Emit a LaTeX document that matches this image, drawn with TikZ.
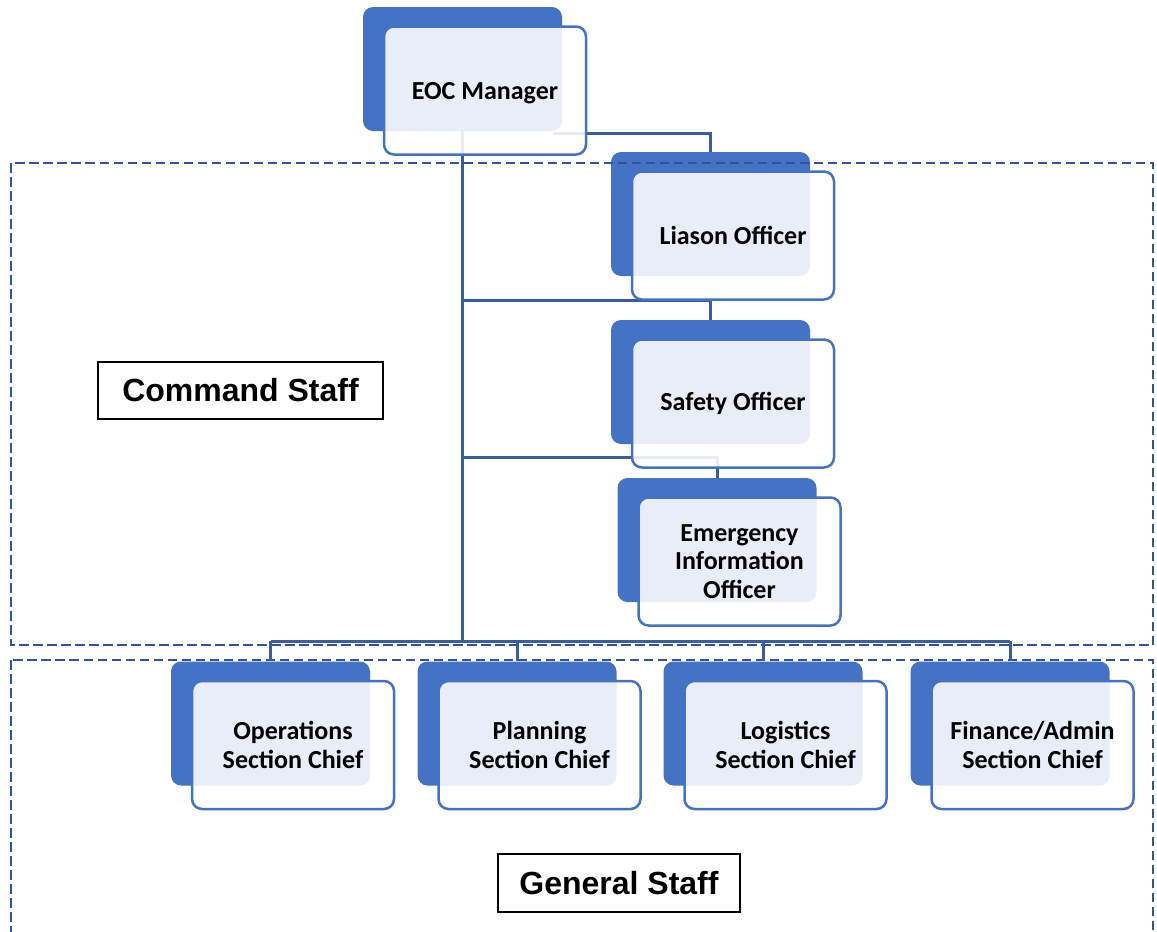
\documentclass[tikz,border=0pt]{standalone}
\usepackage{fontspec}
\setmainfont{Carlito}
\newfontfamily\arialfont{Liberation Sans}
\usepackage{tikz}
\definecolor{boxblue}{HTML}{4472C4}
\definecolor{lineblue}{HTML}{3A5CA3}
\definecolor{dashblue}{HTML}{2F5597}
\tikzset{
  backbox/.style={fill=boxblue, rounded corners=10pt, minimum width=199pt, minimum height=124pt},
  frontbox/.style={draw=boxblue, line width=2.5pt, fill=white, fill opacity=0.88, text opacity=1,
    rounded corners=10pt, minimum width=202pt, minimum height=128pt, align=center,
    font=\fontsize{26}{28.5}\selectfont\bfseries, shift={(22.5,21.5)}},
  conn/.style={draw=lineblue, line width=3pt},
  staffline/.style={draw=dashblue, line width=2.5pt, dash pattern=on 9.5pt off 4.5pt},
  stafflabel/.style={draw=black, line width=2pt, fill=white, font=\arialfont\fontsize{32}{36}\selectfont\bfseries}
}

\begin{document}
\begin{tikzpicture}[x=1pt, y=-1pt]
\useasboundingbox (0,0) rectangle (1157,932);
% back boxes
\node [backbox] (eocB) at (462.5,69) {};
\node [backbox] (liaB) at (710.5,214) {};
\node [backbox] (safB) at (710.5,382) {};
\node [backbox] (eioB) at (717,540) {};
\node [backbox] (opsB) at (270.5,723.5) {};
\node [backbox] (plnB) at (517,723.5) {};
\node [backbox] (logB) at (763,723.5) {};
\node [backbox] (finB) at (1010,723.5) {};
% staff areas
\draw [staffline] (11,163) rectangle (1153,645);
\draw [staffline] (11,660) rectangle (1153,945);
% connectors
\coordinate (bus) at (462.5,641);
\draw [conn] (eocB.south) -- (bus);
\draw [conn] ([xshift=-9pt,yshift=-2pt]eocB.south east) -| (liaB.north);
\draw [conn] (eocB.south |- 0,300) -| (safB.north);
\draw [conn] (eocB.south |- 0,457) -| (eioB.north);
\draw [conn] (bus -| opsB.north) -- (bus -| finB.north);
\foreach \b in {opsB,plnB,logB,finB}
  \draw [conn] (bus -| \b.north) -- (\b.north);
% front boxes
\node [frontbox, text depth=-2pt] (eoc) at (eocB) {EOC Manager};
\node [frontbox] (lia) at (liaB) {Liason Officer};
\node [frontbox] (saf) at (safB) {Safety Officer};
\node [frontbox] (eio) at (eioB) {Emergency\\Information\\Officer};
\node [frontbox] (ops) at (opsB) {Operations\\Section Chief};
\node [frontbox] (pln) at (plnB) {Planning\\Section Chief};
\node [frontbox] (log) at (logB) {Logistics\\Section Chief};
\node [frontbox] (fin) at (finB) {Finance/Admin\\Section Chief};
% labels
\node [stafflabel, minimum width=285pt, minimum height=57pt] (cmd) at (240.5,390.5) {Command Staff};
\node [stafflabel, minimum width=242pt, minimum height=58pt] (gen) at (619,883) {General Staff};
\end{tikzpicture}
\end{document}
